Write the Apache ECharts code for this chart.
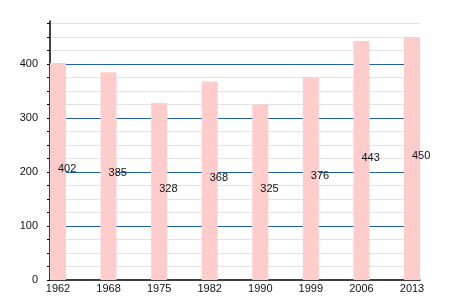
<!DOCTYPE html>
<html><head><meta charset="utf-8">
<script src="https://cdn.jsdelivr.net/npm/echarts@6/dist/echarts.min.js"></script>
<style>html,body{margin:0;padding:0;background:#fff}#c{width:450px;height:300px}</style>
</head><body><div id="c"></div>
<script>
const categories = ['1962','1968','1975','1982','1990','1999','2006','2013'];
const values = [402, 385, 328, 368, 325, 376, 443, 450];
const minorTicks = [0,25,50,75,100,125,150,175,200,225,250,275,300,325,350,375,400,425,450,475];
const yMax = 480;
const FONT = 'Liberation Sans';
const chart = echarts.init(document.getElementById('c'), null, {renderer:'canvas'});
chart.setOption({
  animation: false,
  backgroundColor: '#fff',
  grid: [
    {left: 58, right: 38, top: 21, bottom: 20},
    {left: 50, right: 30, top: 21, bottom: 20}
  ],
  xAxis: [
    {type: 'category', gridIndex: 0, data: categories, boundaryGap: false,
     axisLine: {show: false}, axisTick: {show: false}, splitLine: {show: false},
     axisLabel: {color: '#111', fontFamily: FONT, fontSize: 11, margin: 3, interval: 0}},
    {type: 'value', gridIndex: 1, min: 0, max: 1, position: 'bottom',
     axisLine: {show: true, onZero: false, lineStyle: {color: '#000', width: 1.5}},
     axisTick: {show: false}, axisLabel: {show: false}, splitLine: {show: false}}
  ],
  yAxis: [
    {type: 'value', gridIndex: 0, min: 0, max: yMax, show: false, splitLine: {show: false}},
    {type: 'value', gridIndex: 1, min: 0, max: yMax, interval: 25, position: 'left',
     axisLine: {show: false}, axisLabel: {show: false},
     axisTick: {show: true, length: 3, customValues: minorTicks, lineStyle: {color: '#000'}},
     splitLine: {show: true, showMaxLine: true, showMinLine: false, lineStyle: {color: '#e2e2e2', width: 1}}},
    {type: 'value', gridIndex: 1, min: 0, max: yMax, interval: 100, position: 'left', offset: 0,
     axisLine: {show: true, onZero: false, lineStyle: {color: '#000', width: 1.5}},
     axisTick: {show: false},
     axisLabel: {color: '#111', fontFamily: FONT, fontSize: 11, margin: 12,
       formatter: v => (v % 100 === 0 ? String(v) : '')},
     splitLine: {show: true, showMaxLine: false, showMinLine: false, lineStyle: {color: '#1f62a8', width: 1}}}
  ],
  series: [{
    type: 'bar', xAxisIndex: 0, yAxisIndex: 0, data: values, barWidth: 16,
    itemStyle: {color: '#ffcccc'},
    label: {show: true, position: 'inside', align: 'left', verticalAlign: 'middle',
      offset: [0, -3], color: '#111', fontFamily: FONT, fontSize: 11}
  }]
});
</script></body></html>
